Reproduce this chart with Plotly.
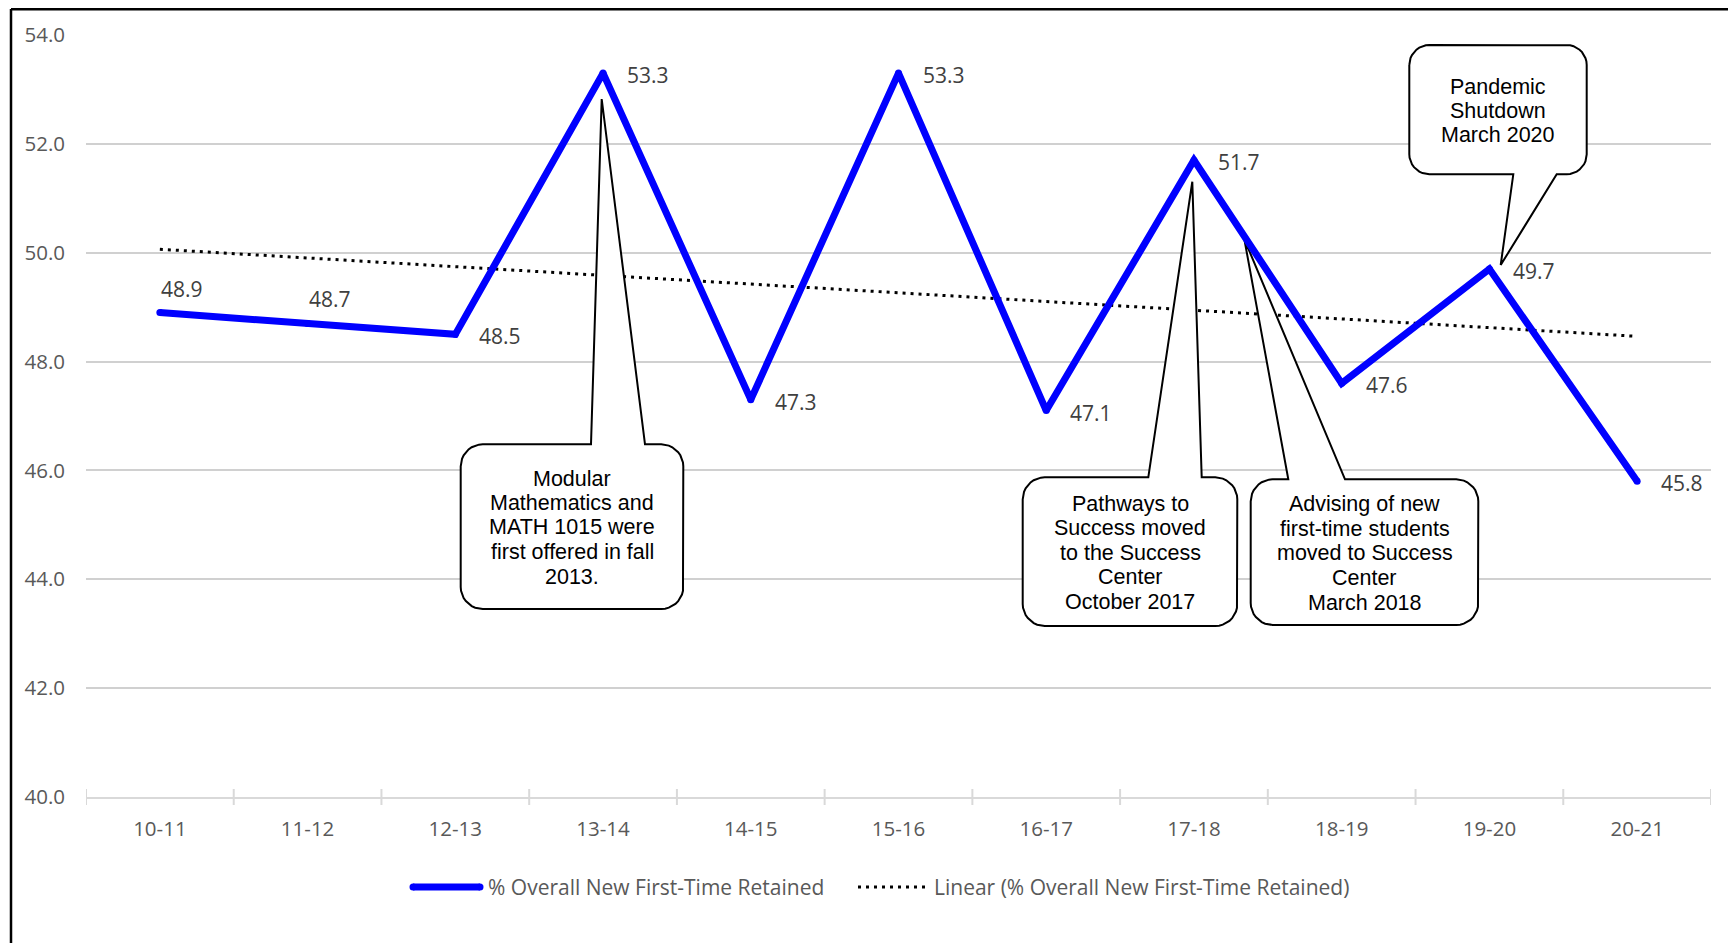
import numpy as np
import plotly.graph_objects as go

# ---------------- data ----------------
categories = ["10-11", "11-12", "12-13", "13-14", "14-15", "15-16",
              "16-17", "17-18", "18-19", "19-20", "20-21"]
retained = [48.9, 48.7, 48.5, 53.3, 47.3, 53.3, 47.1, 51.7, 47.6, 49.7, 45.8]
y_tick_values = [40, 42, 44, 46, 48, 50, 52, 54]
labels_above = [0, 1]          # indices whose value label sits above the point

series_name = "% Overall New First-Time Retained"
trend_name = "Linear (% Overall New First-Time Retained)"

callout_modular = ["Modular", "Mathematics and", "MATH 1015 were", "first offered in fall", "2013."]
callout_pathways = ["Pathways to", "Success moved", "to the Success", "Center", "October 2017"]
callout_advising = ["Advising of new", "first-time students", "moved to Success", "Center", "March 2018"]
callout_pandemic = ["Pandemic", "Shutdown", "March 2020"]

# ---------------- layout geometry ----------------
# page offsets the figure by the default 8px body margin
OFF = 8
W, H = 1736 - OFF, 943 - OFF
PL, PT, PW, PH = 86, 35, 1625, 762          # plot area in page pixels
L, T = PL - OFF, PT - OFF
R = W - (L + PW)
B = H - (T + PH)
YMIN, YMAX = 40, 54
XMIN, XMAX = -0.5, len(categories) - 0.5


def dx(X):
    return XMIN + (X - PL) / PW * (XMAX - XMIN)


def dy(Y):
    return YMAX - (Y - PT) / PH * (YMAX - YMIN)


def pxp(X):
    return (X - PL) / PW


def pyp(Y):
    return (PT + PH - Y) / PH


xs = list(range(len(categories)))

# linear trend (least squares, like Excel's linear trendline)
slope, intercept = np.polyfit(xs, retained, 1)
trend = [slope * x + intercept for x in xs]

fig = go.Figure()

fig.add_trace(go.Scatter(
    x=xs, y=trend, mode="lines", name=trend_name,
    line=dict(color="black", width=3, dash="3px,5px"),
    hoverinfo="skip", showlegend=False))


def callout_points(x0, y0, x1, y1, r, side, ta, tb, tip):
    pts = []

    def arc(cx, cy, a0, a1):
        for t in np.linspace(np.radians(a0), np.radians(a1), 10):
            pts.append((cx + r * np.cos(t), cy + r * np.sin(t)))

    arc(x0 + r, y0 + r, 180, 270)
    if side == "top":
        pts += [(ta, y0), tip, (tb, y0)]
    arc(x1 - r, y0 + r, 270, 360)
    arc(x1 - r, y1 - r, 0, 90)
    if side == "bottom":
        pts += [(tb, y1), tip, (ta, y1)]
    arc(x0 + r, y1 - r, 90, 180)
    pts.append(pts[0])
    return pts


callouts = [
    (callout_modular, (460.7, 444.3, 683.3, 609, 22, "top", 591, 645, (601.7, 99)),
     [479, 503.3, 527.3, 551.7, 576.7]),
    (callout_pathways, (1022.7, 477.3, 1237.3, 626, 22, "top", 1148.3, 1201.7, (1192.3, 181.7)),
     [504, 528.3, 552.7, 577.3, 602]),
    (callout_advising, (1250.7, 479.3, 1478.3, 625, 22, "top", 1288.3, 1345, (1244.3, 239)),
     [504, 529, 553, 577.7, 602.7]),
    (callout_pandemic, (1409.3, 45, 1586.7, 174.3, 20, "bottom", 1513.3, 1556.7, (1500.7, 265)),
     [86.7, 110.7, 135]),
]

annotations = []
for lines, geom, line_ys in callouts:
    pts = callout_points(*geom)
    fig.add_trace(go.Scatter(
        x=[dx(p[0]) for p in pts], y=[dy(p[1]) for p in pts],
        mode="lines", fill="toself", fillcolor="white",
        line=dict(color="black", width=2), hoverinfo="skip", showlegend=False))
    cx = (geom[0] + geom[2]) / 2
    for txt, ly in zip(lines, line_ys):
        annotations.append(dict(
            x=dx(cx), y=dy(ly), xref="x", yref="y", text=txt, showarrow=False,
            xanchor="center", yanchor="middle",
            font=dict(family="Liberation Sans, Arial", size=21.5, color="black")))

fig.add_trace(go.Scatter(
    x=xs, y=retained, mode="lines+markers", name=series_name,
    line=dict(color="#0000FF", width=7),
    marker=dict(color="#0000FF", size=7),
    showlegend=False))

# value labels
for i, v in enumerate(retained):
    if i in labels_above:
        annotations.append(dict(x=xs[i], y=v, xref="x", yref="y", text=f"{v:.1f}",
                                showarrow=False, xanchor="center", yanchor="middle",
                                xshift=22, yshift=24,
                                font=dict(family="Open Sans", size=21, color="#404040")))
    else:
        annotations.append(dict(x=xs[i], y=v, xref="x", yref="y", text=f"{v:.1f}",
                                showarrow=False, xanchor="left", yanchor="middle",
                                xshift=22, yshift=-2,
                                font=dict(family="Open Sans", size=21, color="#404040")))

# manual legend
leg_y = 887
shapes = []
shapes.append(dict(type="line", xref="paper", yref="paper",
                   x0=pxp(413), x1=pxp(480), y0=pyp(leg_y), y1=pyp(leg_y),
                   line=dict(color="#0000FF", width=7)))
for cxp in (413, 480):
    shapes.append(dict(type="circle", xref="paper", yref="paper",
                       x0=pxp(cxp - 3.5), x1=pxp(cxp + 3.5),
                       y0=pyp(leg_y + 3.5), y1=pyp(leg_y - 3.5),
                       fillcolor="#0000FF", line=dict(width=0)))
annotations.append(dict(x=pxp(486), y=pyp(leg_y), xref="paper", yref="paper",
                        text=series_name, showarrow=False, xanchor="left", yanchor="middle",
                        font=dict(family="Open Sans", size=21, color="#595959")))
shapes.append(dict(type="line", xref="paper", yref="paper",
                   x0=pxp(858), x1=pxp(928), y0=pyp(leg_y), y1=pyp(leg_y),
                   line=dict(color="black", width=3, dash="3px,5px")))
annotations.append(dict(x=pxp(932), y=pyp(leg_y), xref="paper", yref="paper",
                        text=trend_name, showarrow=False, xanchor="left", yanchor="middle",
                        font=dict(family="Open Sans", size=21, color="#595959")))

# cross tick marks on category axis
for k in range(len(categories) + 1):
    shapes.append(dict(type="line", xref="x", yref="paper",
                       x0=k - 0.5, x1=k - 0.5, y0=pyp(797 + 8), y1=pyp(797 - 8),
                       line=dict(color="#d9d9d9", width=2), layer="below"))

# outer border (left and top edges visible)
shapes.append(dict(type="line", xref="paper", yref="paper",
                   x0=pxp(11), x1=pxp(11), y0=pyp(9), y1=pyp(960),
                   line=dict(color="black", width=2.5)))
shapes.append(dict(type="line", xref="paper", yref="paper",
                   x0=pxp(11), x1=pxp(1760), y0=pyp(9), y1=pyp(9),
                   line=dict(color="black", width=3)))

fig.update_layout(
    width=W, height=H,
    margin=dict(l=L, r=R, t=T, b=B, autoexpand=False),
    paper_bgcolor="white", plot_bgcolor="white",
    showlegend=False,
    annotations=annotations, shapes=shapes,
    xaxis=dict(range=[XMIN, XMAX], tickmode="array", tickvals=xs, ticktext=categories,
               showgrid=False, zeroline=False, showline=True, linecolor="#d9d9d9", linewidth=2,
               ticks="", ticklabelstandoff=12,
               tickfont=dict(family="Open Sans", size=20.5, color="#595959")),
    yaxis=dict(range=[YMIN, YMAX], tickmode="array", tickvals=y_tick_values,
               ticktext=[f"{v:.1f}" for v in y_tick_values],
               showgrid=True, gridcolor="#d0d0d0", gridwidth=1.5, zeroline=False,
               showline=False, ticks="", ticklabelstandoff=20,
               tickfont=dict(family="Open Sans", size=20.5, color="#595959")),
)

fig.write_html("out.html")
